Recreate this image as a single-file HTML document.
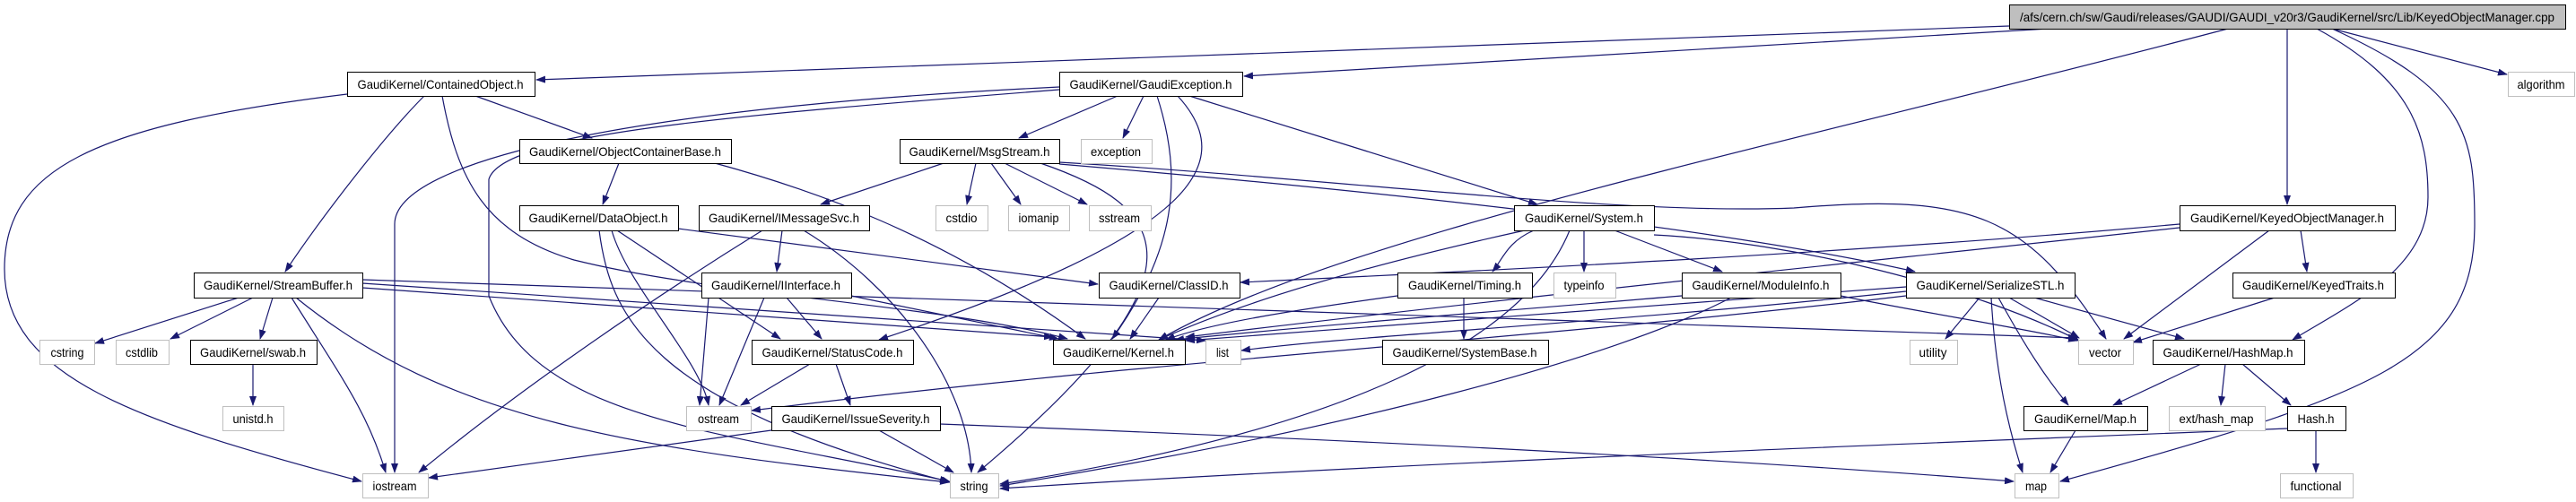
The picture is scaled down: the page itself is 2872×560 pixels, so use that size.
<!DOCTYPE html>
<html><head><meta charset="utf-8">
<style>
html,body{margin:0;padding:0;background:#fff;}
svg{display:block;}
text{font-family:"Liberation Sans",sans-serif;font-size:14px;fill:#000;}
</style></head>
<body>
<svg width="2872" height="560" viewBox="0 0 2872 560" xmlns="http://www.w3.org/2000/svg">
<defs>
<marker id="a" markerWidth="11" markerHeight="8" refX="10" refY="4" orient="auto" markerUnits="userSpaceOnUse">
<path d="M0,0 L11,4 L0,8 z" fill="#191970"/>
</marker>
</defs>
<g fill="none" stroke="#191970" stroke-width="1.2" marker-end="url(#a)">
<!-- main -->
<path d="M2240,29 L598,89"/>
<path d="M2284,32 L1387,85"/>
<path d="M2484,32 C2000,160 1500,260 1292,379"/>
<path d="M2550,32 L2550,228"/>
<path d="M2600,32 L2795,83"/>
<path d="M2583,32 C2690,90 2707,150 2707,220 C2707,300 2620,340 2556,379"/>
<path d="M2600,32 C2750,100 2759,150 2759,250 C2759,400 2650,440 2297,537"/>
<!-- ContainedObject -->
<path d="M530,107 L660,154"/>
<path d="M473,107 C430,150 360,240 318,303"/>
<path d="M387,105 C100,140 5,190 5,300 C5,420 150,470 403,537"/>
<path d="M493,107 C510,200 540,260 640,290 C800,330 1050,340 1190,378"/>
<!-- GaudiException -->
<path d="M1246,107 L1136,154"/>
<path d="M1275,107 L1252,154"/>
<path d="M1326,107 L1714,228"/>
<path d="M1290,107 C1320,200 1310,280 1240,378"/>
<path d="M1313,107 C1380,180 1340,260 980,379"/>
<path d="M1181,97 C700,120 440,180 440,250 L440,527"/>
<path d="M1181,100 C800,130 560,150 545,200 L545,330 C600,470 800,480 1058,537"/>
<!-- ObjectContainerBase -->
<path d="M690,182 L672,228"/>
<path d="M797,182 C900,210 1050,260 1210,378"/>
<!-- MsgStream -->
<path d="M1052,182 L915,228"/>
<path d="M1088,182 L1078,228"/>
<path d="M1105,182 L1138,228"/>
<path d="M1120,182 L1212,228"/>
<path d="M1160,182 C1300,230 1360,300 1090,527"/>
<path d="M1181,181 C1500,200 1800,240 2000,232 C2200,215 2260,240 2348,378"/>
<path d="M1181,183 C1500,210 1900,250 2135,303"/>
<!-- DataObject -->
<path d="M756,255 L1224,317"/>
<path d="M688,257 L870,378"/>
<path d="M682,257 C700,320 780,400 790,452"/>
<path d="M668,257 C680,350 720,450 1060,538"/>
<!-- IMessageSvc -->
<path d="M872,257 L866,303"/>
<path d="M850,257 C700,350 560,450 467,527"/>
<path d="M896,257 C1000,320 1080,430 1083,527"/>
<!-- StreamBuffer -->
<path d="M266,332 L106,383"/>
<path d="M282,332 L190,378"/>
<path d="M304,332 L290,378"/>
<path d="M325,332 C380,420 410,460 430,527"/>
<path d="M330,332 C500,470 700,500 1058,538"/>
<path d="M404,321 L1174,376"/>
<path d="M404,316 L1344,380"/>
<path d="M404,312 L2316,377"/>
<path d="M282,406 L282,452"/>
<!-- IInterface -->
<path d="M877,332 L916,378"/>
<path d="M852,332 L802,452"/>
<path d="M949,330 L1180,378"/>
<path d="M790,332 L780,452"/>
<!-- ClassID -->
<path d="M1292,332 L1260,378"/>
<!-- StatusCode -->
<path d="M903,406 L826,452"/>
<path d="M932,406 L948,452"/>
<!-- IssueSeverity -->
<path d="M980,480 L1063,527"/>
<path d="M860,480 L478,533"/>
<path d="M1048,473 C1500,490 1900,510 2245,537"/>
<!-- System -->
<path d="M1710,257 C1680,270 1675,290 1664,303"/>
<path d="M1766,257 L1766,303"/>
<path d="M1800,257 L1920,303"/>
<path d="M1700,257 C1550,290 1400,330 1292,379"/>
<path d="M1750,257 C1700,380 1500,480 1115,540"/>
<path d="M1844,262 C2000,270 2200,320 2318,380"/>
<!-- Timing -->
<path d="M1632,332 L1632,378"/>
<path d="M1558,330 C1450,345 1350,360 1300,379"/>
<!-- ModuleInfo -->
<path d="M1875,330 C1700,345 1500,360 1310,379"/>
<path d="M1930,332 C1800,400 1500,480 1115,542"/>
<path d="M2052,330 C2150,350 2250,365 2316,380"/>
<!-- SerializeSTL -->
<path d="M2207,332 L2169,378"/>
<path d="M2240,332 L2318,377"/>
<path d="M2268,332 L2435,378"/>
<path d="M2228,332 C2260,390 2280,420 2306,452"/>
<path d="M2220,332 C2225,420 2240,480 2255,527"/>
<path d="M2125,320 C1800,345 1500,365 1322,380"/>
<path d="M2125,330 C1700,380 1300,400 838,458"/>
<path d="M2125,325 C1800,360 1500,375 1384,391"/>
<!-- KOM -->
<path d="M2430,250 C2100,280 1700,300 1383,315"/>
<path d="M2430,254 C2100,290 1700,330 1322,376"/>
<path d="M2565,257 L2572,303"/>
<path d="M2530,257 L2368,378"/>
<!-- KeyedTraits -->
<path d="M2536,332 L2378,382"/>
<!-- HashMap -->
<path d="M2454,406 L2356,452"/>
<path d="M2481,406 L2476,452"/>
<path d="M2500,406 L2554,452"/>
<!-- Map -->
<path d="M2314,480 L2286,527"/>
<!-- Hash -->
<path d="M2550,478 C2000,500 1500,520 1115,545"/>
<path d="M2582,480 L2582,527"/>
</g>
<g stroke-width="1" fill="#fff">
<rect x="2240.5" y="5.5" width="620" height="27" fill="#bfbfbf" stroke="#000"/>
<rect x="387.5" y="80.5" width="209" height="27" stroke="#000"/>
<rect x="1181.5" y="80.5" width="204" height="27" stroke="#000"/>
<rect x="2796.5" y="80.5" width="74" height="27" stroke="#bfbfbf"/>
<rect x="579.5" y="155.5" width="236" height="27" stroke="#000"/>
<rect x="1003.5" y="155.5" width="178" height="27" stroke="#000"/>
<rect x="1205.5" y="155.5" width="79" height="27" stroke="#bfbfbf"/>
<rect x="579.5" y="229.5" width="177" height="28" stroke="#000"/>
<rect x="779.5" y="229.5" width="190" height="28" stroke="#000"/>
<rect x="1043.5" y="229.5" width="58" height="28" stroke="#bfbfbf"/>
<rect x="1124.5" y="229.5" width="68" height="28" stroke="#bfbfbf"/>
<rect x="1214.5" y="229.5" width="69" height="28" stroke="#bfbfbf"/>
<rect x="1688.5" y="229.5" width="156" height="28" stroke="#000"/>
<rect x="2430.5" y="229.5" width="240" height="28" stroke="#000"/>
<rect x="216.5" y="304.5" width="188" height="28" stroke="#000"/>
<rect x="782.5" y="304.5" width="167" height="28" stroke="#000"/>
<rect x="1225.5" y="304.5" width="157" height="28" stroke="#000"/>
<rect x="1558.5" y="304.5" width="150" height="28" stroke="#000"/>
<rect x="1732.5" y="304.5" width="69" height="28" stroke="#bfbfbf"/>
<rect x="1875.5" y="304.5" width="177" height="28" stroke="#000"/>
<rect x="2125.5" y="304.5" width="188" height="28" stroke="#000"/>
<rect x="2489.5" y="304.5" width="181" height="28" stroke="#000"/>
<rect x="44.5" y="379.5" width="61" height="27" stroke="#bfbfbf"/>
<rect x="129.5" y="379.5" width="59" height="27" stroke="#bfbfbf"/>
<rect x="212.5" y="379.5" width="141" height="27" stroke="#000"/>
<rect x="838.5" y="379.5" width="180" height="27" stroke="#000"/>
<rect x="1174.5" y="379.5" width="147" height="27" stroke="#000"/>
<rect x="1344.5" y="379.5" width="39" height="27" stroke="#bfbfbf"/>
<rect x="1541.5" y="379.5" width="185" height="27" stroke="#000"/>
<rect x="2129.5" y="379.5" width="53" height="27" stroke="#bfbfbf"/>
<rect x="2317.5" y="379.5" width="61" height="27" stroke="#bfbfbf"/>
<rect x="2400.5" y="379.5" width="169" height="27" stroke="#000"/>
<rect x="248.5" y="453.5" width="68" height="27" stroke="#bfbfbf"/>
<rect x="765.5" y="453.5" width="72" height="27" stroke="#bfbfbf"/>
<rect x="860.5" y="453.5" width="188" height="27" stroke="#000"/>
<rect x="2256.5" y="453.5" width="138" height="27" stroke="#000"/>
<rect x="2418.5" y="453.5" width="107" height="27" stroke="#bfbfbf"/>
<rect x="2550.5" y="453.5" width="65" height="27" stroke="#000"/>
<rect x="404.5" y="528.5" width="73" height="27" stroke="#bfbfbf"/>
<rect x="1059.5" y="528.5" width="54" height="27" stroke="#bfbfbf"/>
<rect x="2246.5" y="528.5" width="49" height="27" stroke="#bfbfbf"/>
<rect x="2542.5" y="528.5" width="81" height="27" stroke="#bfbfbf"/>
</g>
<g text-anchor="middle" lengthAdjust="spacingAndGlyphs">
<text x="2550" y="24" textLength="596" lengthAdjust="spacingAndGlyphs">/afs/cern.ch/sw/Gaudi/releases/GAUDI/GAUDI_v20r3/GaudiKernel/src/Lib/KeyedObjectManager.cpp</text>
<text x="491" y="99" textLength="185" lengthAdjust="spacingAndGlyphs">GaudiKernel/ContainedObject.h</text>
<text x="1283" y="99" textLength="181" lengthAdjust="spacingAndGlyphs">GaudiKernel/GaudiException.h</text>
<text x="2833" y="99" textLength="53" lengthAdjust="spacingAndGlyphs">algorithm</text>
<text x="697" y="174" textLength="214" lengthAdjust="spacingAndGlyphs">GaudiKernel/ObjectContainerBase.h</text>
<text x="1092" y="174" textLength="157" lengthAdjust="spacingAndGlyphs">GaudiKernel/MsgStream.h</text>
<text x="1244" y="174" textLength="56" lengthAdjust="spacingAndGlyphs">exception</text>
<text x="667" y="248" textLength="155" lengthAdjust="spacingAndGlyphs">GaudiKernel/DataObject.h</text>
<text x="874" y="248" textLength="168" lengthAdjust="spacingAndGlyphs">GaudiKernel/IMessageSvc.h</text>
<text x="1072" y="248" textLength="35" lengthAdjust="spacingAndGlyphs">cstdio</text>
<text x="1158" y="248" textLength="45" lengthAdjust="spacingAndGlyphs">iomanip</text>
<text x="1248" y="248" textLength="46" lengthAdjust="spacingAndGlyphs">sstream</text>
<text x="1766" y="248" textLength="132" lengthAdjust="spacingAndGlyphs">GaudiKernel/System.h</text>
<text x="2550" y="248" textLength="216" lengthAdjust="spacingAndGlyphs">GaudiKernel/KeyedObjectManager.h</text>
<text x="310" y="323" textLength="166" lengthAdjust="spacingAndGlyphs">GaudiKernel/StreamBuffer.h</text>
<text x="865" y="323" textLength="144" lengthAdjust="spacingAndGlyphs">GaudiKernel/IInterface.h</text>
<text x="1303" y="323" textLength="133" lengthAdjust="spacingAndGlyphs">GaudiKernel/ClassID.h</text>
<text x="1633" y="323" textLength="126" lengthAdjust="spacingAndGlyphs">GaudiKernel/Timing.h</text>
<text x="1766" y="323" textLength="45" lengthAdjust="spacingAndGlyphs">typeinfo</text>
<text x="1963" y="323" textLength="153" lengthAdjust="spacingAndGlyphs">GaudiKernel/ModuleInfo.h</text>
<text x="2219" y="323" textLength="165" lengthAdjust="spacingAndGlyphs">GaudiKernel/SerializeSTL.h</text>
<text x="2579" y="323" textLength="158" lengthAdjust="spacingAndGlyphs">GaudiKernel/KeyedTraits.h</text>
<text x="75" y="398" textLength="37" lengthAdjust="spacingAndGlyphs">cstring</text>
<text x="158" y="398" textLength="36" lengthAdjust="spacingAndGlyphs">cstdlib</text>
<text x="282" y="398" textLength="118" lengthAdjust="spacingAndGlyphs">GaudiKernel/swab.h</text>
<text x="928" y="398" textLength="157" lengthAdjust="spacingAndGlyphs">GaudiKernel/StatusCode.h</text>
<text x="1247" y="398" textLength="124" lengthAdjust="spacingAndGlyphs">GaudiKernel/Kernel.h</text>
<text x="1363" y="398" textLength="14" lengthAdjust="spacingAndGlyphs">list</text>
<text x="1633" y="398" textLength="161" lengthAdjust="spacingAndGlyphs">GaudiKernel/SystemBase.h</text>
<text x="2155" y="398" textLength="31" lengthAdjust="spacingAndGlyphs">utility</text>
<text x="2347" y="398" textLength="36" lengthAdjust="spacingAndGlyphs">vector</text>
<text x="2484" y="398" textLength="145" lengthAdjust="spacingAndGlyphs">GaudiKernel/HashMap.h</text>
<text x="282" y="472" textLength="45" lengthAdjust="spacingAndGlyphs">unistd.h</text>
<text x="801" y="472" textLength="46" lengthAdjust="spacingAndGlyphs">ostream</text>
<text x="954" y="472" textLength="165" lengthAdjust="spacingAndGlyphs">GaudiKernel/IssueSeverity.h</text>
<text x="2325" y="472" textLength="114" lengthAdjust="spacingAndGlyphs">GaudiKernel/Map.h</text>
<text x="2471" y="472" textLength="83" lengthAdjust="spacingAndGlyphs">ext/hash_map</text>
<text x="2582" y="472" textLength="41" lengthAdjust="spacingAndGlyphs">Hash.h</text>
<text x="440" y="547" textLength="49" lengthAdjust="spacingAndGlyphs">iostream</text>
<text x="1086" y="547" textLength="31" lengthAdjust="spacingAndGlyphs">string</text>
<text x="2270" y="547" textLength="24" lengthAdjust="spacingAndGlyphs">map</text>
<text x="2582" y="547" textLength="57" lengthAdjust="spacingAndGlyphs">functional</text>
</g>
</svg>
</body></html>
